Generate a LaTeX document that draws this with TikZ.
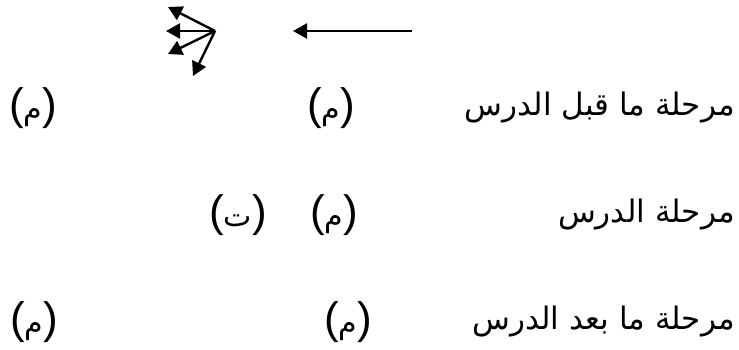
\documentclass[tikz,border=0pt]{standalone}
\usepackage{fontspec}
\setmainfont{Liberation Sans}
\newfontfamily\arabicfont[Script=Arabic]{DejaVu Sans}
\TeXXeTstate=1
\usetikzlibrary{arrows.meta}

\tikzset{%
  stage/.style={anchor=east, inner sep=0pt, font=\arabicfont\fontsize{31}{36}\selectfont},
  mk/.style={inner sep=0pt, font=\fontsize{44}{48}\selectfont},
  arr/.style={line width=2.4pt, -{Triangle[length=14pt,width=15pt]}},
}
\newcommand{\ar}[1]{{\arabicfont\fontsize{30}{34}\selectfont #1}}

\begin{document}
\begin{tikzpicture}[x=1pt,y=1pt]
      \useasboundingbox (0,0) rectangle (739,349);

      \coordinate (long-s) at (412,318);
      \coordinate (long-e) at (293,318);
      \draw [arr] (long-s) -- (long-e);

      \coordinate (fan) at (215,318);
      \coordinate (fan-a) at (168,342);
      \coordinate (fan-b) at (166,318);
      \coordinate (fan-c) at (168,295);
      \coordinate (fan-d) at (193,273);
      \foreach \t in {a,b,c,d}
        \draw [arr] (fan) -- (fan-\t);

      \node [stage] (pre) at (735,241) {\beginR مرحلة ما قبل الدرس\endR};
      \node [mk] (pre-m1) at (331,241) {(\ar{م})};
      \node [mk] (pre-m2) at (33,241) {(\ar{م})};

      \node [stage] (during) at (735,134) {\beginR مرحلة الدرس\endR};
      \node [mk] (during-m) at (334,134) {(\ar{م})};
      \node [mk] (during-t) at (238,134) {(\ar{ت})};

      \node [stage] (post) at (735,27) {\beginR مرحلة ما بعد الدرس\endR};
      \node [mk] (post-m1) at (348,27) {(\ar{م})};
      \node [mk] (post-m2) at (34,27) {(\ar{م})};
\end{tikzpicture}
\end{document}
